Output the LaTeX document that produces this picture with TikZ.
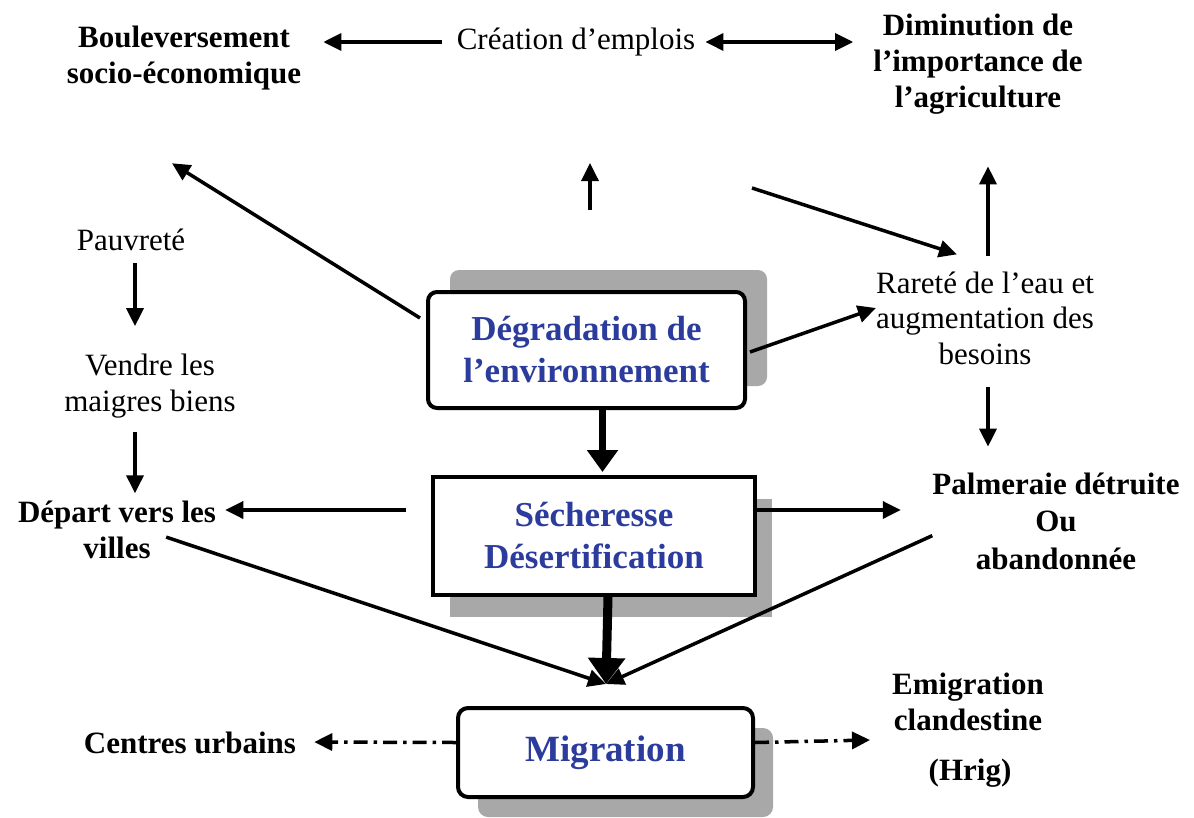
\documentclass[tikz,border=0pt]{standalone}
\usepackage{fontspec}
\setmainfont{Liberation Serif}
\usetikzlibrary{arrows.meta,calc,shadows}
\definecolor{tblue}{RGB}{44,60,156}
\definecolor{shadowgray}{RGB}{168,168,168}
\begin{document}
\begin{tikzpicture}[x=1pt,y=-1pt,
  txt/.style={align=center,inner sep=0pt,font=\fontsize{31}{36}\selectfont},
  btxt/.style={align=center,inner sep=0pt,font=\fontsize{31}{36}\selectfont\bfseries},
  bluebox/.style={draw=black,fill=white,align=center,text=tblue,
    font=\fontsize{35}{42}\selectfont\bfseries},
  arr/.style={line width=3.5pt,-{Triangle[length=18pt,width=17pt]}},
  darr/.style={line width=3.5pt,{Triangle[length=18pt,width=17pt]}-{Triangle[length=18pt,width=17pt]}},
  bigarr/.style={line width=7pt,-{Triangle[length=22pt,width=30pt]}},
  hugearr/.style={line width=9pt,-{Triangle[length=26pt,width=36pt]}},
  dash dot arr/.style={line width=3.5pt,dash pattern=on 14pt off 6pt on 3.5pt off 6pt,-{Triangle[length=18pt,width=17pt]}},
]
\useasboundingbox (0,0) rectangle (1194,817);

% text nodes
\node[btxt] (bou) at (184,58) {Bouleversement\\socio-économique};
\node[txt] (cre) at (576,42) {Création d'emplois};
\node[btxt] (dim) at (978,64) {Diminution de\\l'importance de\\l'agriculture};
\node[txt] (pau) at (131,240) {Pauvreté};
\node[txt] (ven) at (150,386) {Vendre les\\maigres biens};
\node[btxt] (dep) at (117,530) {Départ vers les\\villes};
\node[txt,font=\fontsize{31}{35.5}\selectfont] (rar) at (985,318) {Rareté de l'eau et\\augmentation des\\besoins};
\node[btxt,font=\fontsize{31}{37.5}\selectfont\bfseries] (pal) at (1056,521) {Palmeraie détruite\\Ou\\abandonnée};
\node[btxt] (cen) at (190,743) {Centres urbains};
\node[btxt] (emi) at (968,702) {Emigration\\clandestine};
\node[btxt] (hrig) at (970,773) {(Hrig)};

% boxes
\node[bluebox,line width=4pt,rounded corners=9pt,minimum width=317pt,minimum height=116pt,
  drop shadow={shadow xshift=22pt,shadow yshift=22pt,fill=shadowgray,opacity=1}]
  (deg) at (586.5,350) {Dégradation de\\l'environnement};
\node[bluebox,line width=3.5pt,minimum width=322pt,minimum height=118pt,
  drop shadow={shadow xshift=17pt,shadow yshift=-22pt,fill=shadowgray,opacity=1}]
  (sec) at (594,536) {Sécheresse\\Désertification};
\node[bluebox,line width=4pt,rounded corners=10pt,minimum width=295pt,minimum height=89pt,
  font=\fontsize{37}{42}\selectfont\bfseries,
  drop shadow={shadow xshift=20pt,shadow yshift=-20pt,fill=shadowgray,opacity=1}]
  (mig) at (605.5,752.5) {Migration};

\coordinate (conv) at (606,684);

% connectors
\draw[arr,shorten <=15pt,shorten >=22pt] (cre.west) -- (cre.west -| bou.east);
\draw[darr,shorten <=10pt,shorten >=20pt] (cre.east) -- (cre.east -| dim.west);
\draw[arr] ($(deg.north west)+(-6,28)$) -- ($(bou.south)+(-12,73)$);
\draw[arr] ($(deg.north)+(3.5,-80)$) -- ($(deg.north)+(3.5,-127)$);
\draw[arr] ($(deg.north east)+(5,-102)$) -- ($(rar.north)+(-28,-17)$);
\draw[arr] ($(rar.north)+(3,-15)$) -- ($(rar.north)+(3,-105)$);
\draw[arr] ($(pau.south)+(4,12)$) -- ($(pau.south)+(4,75)$);
\draw[arr] ($(ven.south)+(-15,14)$) -- ($(ven.south)+(-15,75)$);
\draw[arr] ($(sec.west)+(-25,-26)$) -- ($(sec.west)+(-206,-26)$);
\draw[arr] ($(deg.east)+(3,2)$) -- ($(rar.west)+(0,-10)$);
\draw[arr] ($(rar.south)+(3,22)$) -- ($(rar.south)+(3,82)$);
\draw[arr] ($(sec.east)+(0,-26)$) -- ($(sec.east)+(144,-26)$);
\draw[bigarr] ($(deg.south)+(16,0)$) -- ($(deg.south)+(16,62)$);
\draw[hugearr] ($(sec.south)+(14,0)$) -- (conv);
\draw[arr] ($(dep.south east)+(-50,-22)$) -- (conv);
\draw[arr] ($(pal.south west)+(0,-34)$) -- (conv);
\draw[dash dot arr] ($(mig.west)+(0,-10)$) -- ($(cen.east)+(18,-1)$);
\draw[dash dot arr] ($(mig.east)+(0,-10)$) -- ($(emi.west)+(-22,38)$);
\end{tikzpicture}
\end{document}
